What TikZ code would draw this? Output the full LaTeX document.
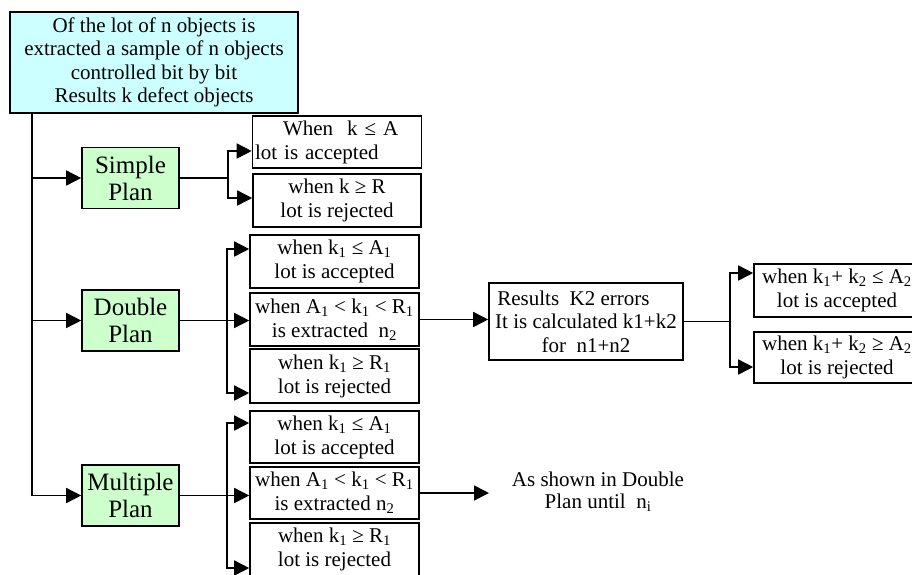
\documentclass[tikz,border=0pt]{standalone}
\usepackage{fontspec}
\setmainfont{Liberation Serif}
\usetikzlibrary{arrows.meta}

\definecolor{lotfill}{HTML}{CCFFFF}
\definecolor{planfill}{HTML}{CCFFCC}

\tikzset{
  box/.style={draw=black, line width=1.6pt, inner sep=0pt, minimum width=169pt,
    minimum height=53pt, align=center, font=\fontsize{21}{24}\selectfont},
  plan/.style={draw=black, line width=1.6pt, fill=planfill, inner sep=0pt,
    minimum width=97pt, minimum height=61pt, align=center, font=\fontsize{25}{27}\selectfont},
  link/.style={line width=1.6pt},
  arr/.style={link, -{Triangle[length=15pt,width=15pt]}},
}

\begin{document}
\begin{tikzpicture}[x=1pt,y=-1pt]
        \useasboundingbox (0,0) rectangle (912,574);
        \clip (0,0) rectangle (912,574);

        \node[box, fill=lotfill, minimum width=288pt, minimum height=101pt,
              font=\fontsize{21}{23.5}\selectfont] (Lot) at (154,62.5)
              {Of the lot of n objects is\\extracted a sample of n objects\\controlled bit by bit\\Results k defect objects};

        \node[plan] (Simple) at (130.5,178) {Simple\\Plan};
        \node[plan] (Double) at (130.5,320.5) {Double\\Plan};
        \node[plan] (Multiple) at (130.5,495.5) {Multiple\\Plan};

        % simple plan
        \node[box, align=left, text width=164pt, inner xsep=2pt, minimum height=52pt] (SAcc) at (337,142)
              {\hspace*{28pt}When\ \ k ≤ A\\lot is accepted};
        \node[box, minimum width=168pt] (SRej) at (337,200.5) {when k ≥ R\\lot is rejected};

        % double plan
        \node[box] (DAcc) at (334.5,261.5) {when k\textsubscript{1} ≤ A\textsubscript{1}\\lot is accepted};
        \node[box] (DMid) at (334.5,319.5) {when A\textsubscript{1} < k\textsubscript{1} < R\textsubscript{1}\\is extracted\ \ n\textsubscript{2}};
        \node[box, minimum height=54pt] (DRej) at (334.5,376) {when k\textsubscript{1} ≥ R\textsubscript{1}\\lot is rejected};

        \node[box, minimum width=194pt, minimum height=77pt, font=\fontsize{21}{23.5}\selectfont] (Results) at (586,321.5)
              {Results\ \ K2 errors\hspace*{25pt}\\It is calculated k1+k2\\for\ \ n1+n2};

        \node[box, minimum width=166pt] (RAcc) at (837,290.5) {when k\textsubscript{1}+ k\textsubscript{2} ≤ A\textsubscript{2}\\lot is accepted};
        \node[box, minimum width=166pt, minimum height=51pt] (RRej) at (837,357.5) {when k\textsubscript{1}+ k\textsubscript{2} ≥ A\textsubscript{2}\\lot is rejected};

        % multiple plan
        \node[box, minimum height=52pt] (MAcc) at (334.5,437) {when k\textsubscript{1} ≤ A\textsubscript{1}\\lot is accepted};
        \node[box, minimum height=52pt] (MMid) at (334.5,493) {when A\textsubscript{1} < k\textsubscript{1} < R\textsubscript{1}\\is extracted n\textsubscript{2}};
        \node[box] (MRej) at (334.5,549.5) {when k\textsubscript{1} ≥ R\textsubscript{1}\\lot is rejected};

        \node[align=center, inner sep=0pt, font=\fontsize{21}{21.5}\selectfont] (Shown) at (598,492)
              {As shown in Double\\Plan until\ \ n\textsubscript{i}};

        \coordinate (t0) at ([xshift=23pt]Lot.south west);
        \coordinate (sb) at (228,178);
        \coordinate (db) at (227,320.5);
        \coordinate (mb) at (227,495.5);
        \coordinate (rb) at (730,321.5);
        \coordinate (mend) at (489,496);

        \draw [arr] (t0) |- (Multiple.west);
        \draw [arr] (t0 |- Simple.west) -- (Simple.west);
        \draw [arr] (t0 |- Double.west) -- (Double.west);

        \draw [link] (Simple.east) -- (sb);
        \draw [arr] (sb) |- ([yshift=-9pt]SAcc.west);
        \draw [arr] (sb) |- ([yshift=2.5pt]SRej.west);

        \draw [arr] (Double.east) -- (Double.east -| DMid.west);
        \draw [arr] (db) |- ([yshift=12.5pt]DAcc.west);
        \draw [arr] (db) |- ([yshift=-17pt]DRej.west);

        \draw [arr] (DMid.east) -- (DMid.east -| Results.west);
        \draw [link] (Results.east) -- (rb);
        \draw [arr] (rb) |- ([yshift=17.5pt]RAcc.west);
        \draw [arr] (rb) |- ([yshift=-9.5pt]RRej.west);

        \draw [arr] (Multiple.east) -- (Multiple.east -| MMid.west);
        \draw [arr] (mb) |- ([yshift=14pt]MAcc.west);
        \draw [arr] (mb) |- ([yshift=-18.5pt]MRej.west);
        \draw [arr] (MMid.east) -- (MMid.east -| mend);
    \end{tikzpicture}
\end{document}
